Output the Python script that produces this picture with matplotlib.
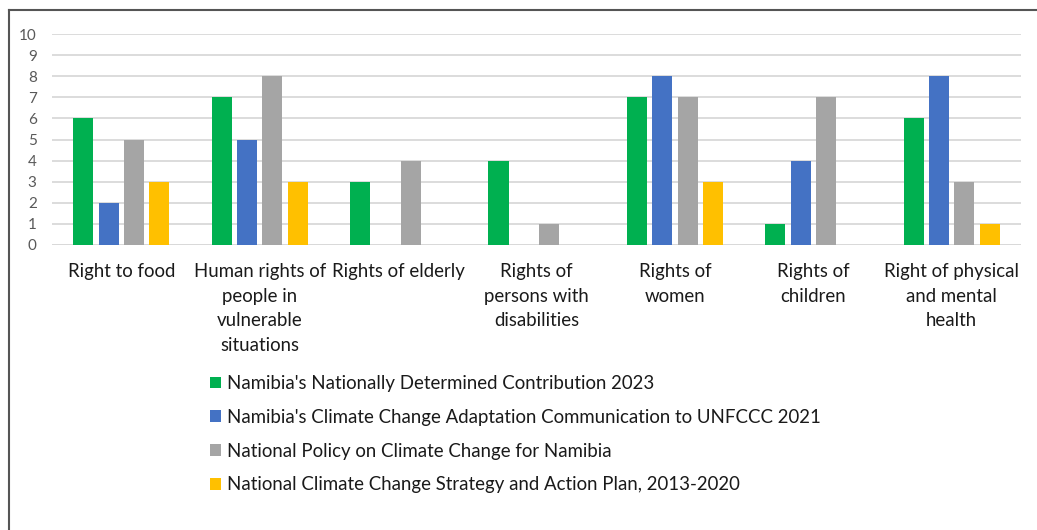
import matplotlib
matplotlib.use("Agg")
import matplotlib.pyplot as plt
import numpy as np
from matplotlib.patches import Patch
from matplotlib.lines import Line2D

categories = ["Right to food",
              "Human rights of\npeople in\nvulnerable\nsituations",
              "Rights of elderly",
              "Rights of\npersons with\ndisabilities",
              "Rights of\nwomen",
              "Rights of\nchildren",
              "Right of physical\nand mental\nhealth"]
series_names = ["Namibia's Nationally Determined Contribution 2023",
                "Namibia's Climate Change Adaptation Communication to UNFCCC 2021",
                "National Policy on Climate Change for Namibia",
                "National Climate Change Strategy and Action Plan, 2013-2020"]
ndc_2023 = [6, 7, 3, 4, 7, 1, 6]
adaptation_2021 = [2, 5, 0, 0, 8, 4, 8]
policy = [5, 8, 4, 1, 7, 7, 3]
strategy = [3, 3, 0, 0, 3, 0, 1]
values = [ndc_2023, adaptation_2021, policy, strategy]
colors = ["#00B050", "#4472C4", "#A5A5A5", "#FFC000"]

plt.rcParams['font.family'] = ['Lato', 'DejaVu Sans']

fig = plt.figure(figsize=(10.37, 5.30), dpi=100)
ax = fig.add_axes([52/1037, 1-245/530, (1021-52)/1037, (245-34)/530])

x = np.arange(len(categories))
step = 0.183
width = 0.145
for i, (vals, c) in enumerate(zip(values, colors)):
    ax.bar(x + (i - 1.5) * step, vals, width=width, color=c, zorder=3)

ax.set_xlim(-0.5, len(categories) - 0.5)
ax.set_ylim(0, 10)
ax.set_yticks(range(0, 11))
ax.yaxis.grid(True, color="#D9D9D9", linewidth=1.3, zorder=0)
ax.set_axisbelow(True)
for s in ax.spines.values():
    s.set_visible(False)
ax.axhline(0, color="#D9D9D9", linewidth=1.3, zorder=1)
ax.tick_params(axis='y', length=0, labelsize=11, labelcolor="#595959", pad=11)
ax.tick_params(axis='x', length=0, labelsize=13.4, labelcolor="#1a1a1a", pad=13)
ax.set_xticks(x)
ax.set_xticklabels(categories, linespacing=1.55, va='top')

handles = [Patch(facecolor=c, edgecolor='none') for c in colors]
fig.legend(handles, series_names, loc='upper left',
           bbox_to_anchor=(210/1037, 1-375/530), frameon=False,
           fontsize=13.4, labelspacing=0.9, handlelength=0.6, handleheight=0.6,
           handletextpad=0.3, borderaxespad=0, borderpad=0, labelcolor="#1a1a1a")

# figure border (top and left)
fig.add_artist(Line2D([9/1037, 9/1037], [0, 1-10/530], transform=fig.transFigure,
                      color="#555555", linewidth=1.5))
fig.add_artist(Line2D([9/1037, 1], [1-10/530, 1-10/530], transform=fig.transFigure,
                      color="#555555", linewidth=1.5))

fig.savefig("out.png", dpi=100)
